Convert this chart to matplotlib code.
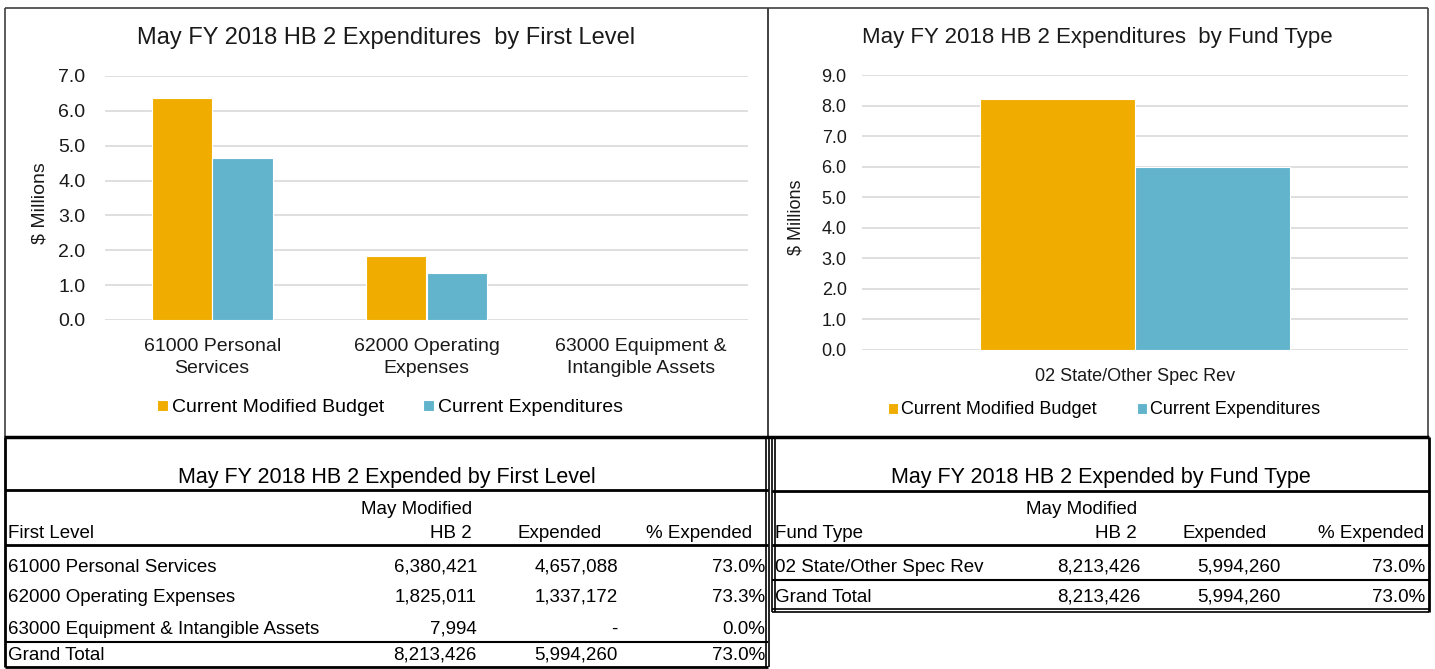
import matplotlib
matplotlib.use("Agg")
import matplotlib.pyplot as plt
from matplotlib.lines import Line2D
import numpy as np

plt.rcParams["font.family"] = ["Liberation Sans", "DejaVu Sans"]

# --- data --------------------------------------------------------------------
first_levels = ["61000 Personal Services", "62000 Operating Expenses",
                "63000 Equipment & Intangible Assets"]
first_level_ticks = ["61000 Personal\nServices", "62000 Operating\nExpenses",
                     "63000 Equipment &\nIntangible Assets"]
fl_budget = [6380421, 1825011, 7994]
fl_expended = [4657088, 1337172, 0]

fund_types = ["02 State/Other Spec Rev"]
ft_budget = [8213426]
ft_expended = [5994260]

series_names = ["Current Modified Budget", "Current Expenditures"]
ORANGE, BLUE = "#F0AD00", "#62B4CC"
GRID = "#D9D9D9"

W, H = 1435, 669
fig = plt.figure(figsize=(W / 100, H / 100), dpi=100)


def fx(x):
    return x / W


def fy(y):
    return 1 - y / H


def hline(x0, x1, y, lw=1.0, color="black"):
    fig.add_artist(Line2D([fx(x0), fx(x1)], [fy(y), fy(y)], lw=lw, color=color,
                          transform=fig.transFigure, solid_capstyle="butt"))


def vline(x, y0, y1, lw=1.0, color="black"):
    fig.add_artist(Line2D([fx(x), fx(x)], [fy(y0), fy(y1)], lw=lw, color=color,
                          transform=fig.transFigure, solid_capstyle="butt"))


def bar_chart(box, cats, budget, expended, ymax, fs, pad, title, title_xy,
              ylabel_x, legend_xy, colsp):
    x0, y0, x1, y1 = box
    ax = fig.add_axes([fx(x0), fy(y1), fx(x1) - fx(x0), fy(y0) - fy(y1)])
    x = np.arange(len(cats))
    w = 0.283
    b1 = ax.bar(x - w / 2, np.array(budget) / 1e6, w, color=ORANGE,
                edgecolor="white", lw=0.8, zorder=3, label=series_names[0])
    b2 = ax.bar(x + w / 2, np.array(expended) / 1e6, w, color=BLUE,
                edgecolor="white", lw=0.8, zorder=3, label=series_names[1])
    ax.set_xlim(-0.5, len(cats) - 0.5)
    ax.set_ylim(0, ymax)
    ax.set_yticks(np.arange(0, ymax + 0.5, 1.0))
    ax.yaxis.set_major_formatter(plt.FuncFormatter(lambda v, p: f"{v:.1f}"))
    ax.grid(axis="y", color=GRID, lw=1.2, zorder=0)
    for s in ax.spines.values():
        s.set_visible(False)
    ax.tick_params(axis="y", length=0, pad=pad, labelsize=fs, labelcolor="#1a1a1a")
    ax.set_xticks(x)
    ax.set_xticklabels(cats, fontsize=fs, linespacing=1.35, color="#1a1a1a")
    ax.tick_params(axis="x", length=0, pad=13)
    fig.text(fx(ylabel_x), fy((y0 + y1) / 2 + 5), "$ Millions", rotation=90,
             ha="center", va="center", fontsize=fs, color="#1a1a1a")
    fig.text(fx(title_xy[0]), fy(title_xy[1]), title, ha="center", va="center",
             fontsize=fs + 3, color="#1a1a1a")
    fig.legend(handles=[b1, b2], loc="center",
               bbox_to_anchor=(fx(legend_xy[0]), fy(legend_xy[1])),
               ncol=2, frameon=False, fontsize=fs, handlelength=0.55,
               handleheight=0.55, handletextpad=0.2, columnspacing=colsp,
               borderpad=0)
    return ax


bar_chart((105, 76, 748, 320), first_level_ticks, fl_budget, fl_expended, 7.0,
          14, 14, "May FY 2018 HB 2 Expenditures  by First Level", (386, 38),
          40, (390, 408), 2.0)
bar_chart((862, 75, 1408, 350), fund_types, ft_budget, ft_expended, 9.0,
          13, 11, "May FY 2018 HB 2 Expenditures  by Fund Type", (1097, 38),
          796, (1104, 410), 2.2)

# chart frames
for (a, b) in [(5, 768), (768, 1428)]:
    hline(a, b, 8, lw=1.2, color="#404040")
    vline(a, 8, 437, lw=1.2, color="#404040")
    vline(b, 8, 437, lw=1.2, color="#404040")
hline(4, 1429, 437, lw=2.5)


# --- tables ------------------------------------------------------------------
def fmt_num(v):
    return f"{v:,.0f}" if v else "-"


def fmt_pct(e, b):
    return f"{100 * e / b:.1f}%"


TFS = 13.5


def table(x0, x1, cols, title, first_head, labels, budget, expended, row_ys,
          total_y, lines):
    c_hb, c_hb_num, c_exp, c_exp_num, c_pct, c_pct_num = cols
    fig.text(fx((x0 + x1) / 2), fy(477), title, ha="center", va="center",
             fontsize=15.5)
    fig.text(fx(c_hb), fy(509), "May Modified", ha="right", va="center", fontsize=TFS)
    fig.text(fx(x0 + 3), fy(533), first_head, ha="left", va="center", fontsize=TFS)
    fig.text(fx(c_hb), fy(533), "HB 2", ha="right", va="center", fontsize=TFS)
    fig.text(fx(c_exp), fy(533), "Expended", ha="right", va="center", fontsize=TFS)
    fig.text(fx(c_pct), fy(533), "% Expended", ha="right", va="center", fontsize=TFS)
    rows = list(zip(labels, budget, expended)) + [("Grand Total", sum(budget),
                                                   sum(expended))]
    for y, (lab, b, e) in zip(row_ys + [total_y], rows):
        fig.text(fx(x0 + 3), fy(y), lab, ha="left", va="center", fontsize=TFS)
        fig.text(fx(c_hb_num), fy(y), fmt_num(b), ha="right", va="center", fontsize=TFS)
        fig.text(fx(c_exp_num), fy(y), fmt_num(e), ha="right", va="center", fontsize=TFS)
        fig.text(fx(c_pct_num), fy(y), fmt_pct(e, b), ha="right", va="center",
                 fontsize=TFS)
    for y, lw in lines:
        hline(x0, x1, y, lw=lw)


table(5, 768, (472, 477, 602, 618, 752, 765), "May FY 2018 HB 2 Expended by First Level",
      "First Level", first_levels, fl_budget, fl_expended, [567, 597, 629], 655,
      [(490, 2.0), (545, 2.0), (642, 1.5), (667, 2.0)])
table(772, 1429, (1137, 1141, 1267, 1281, 1424, 1425),
      "May FY 2018 HB 2 Expended by Fund Type", "Fund Type", fund_types,
      ft_budget, ft_expended, [567], 597,
      [(491, 2.0), (545, 2.0), (580, 1.5), (609, 1.2), (612, 1.2)])

vline(5, 437, 667, lw=2.0)
vline(766, 437, 667, lw=1.2)
vline(769, 437, 667, lw=1.2)
vline(772, 437, 612, lw=1.2)
vline(775, 437, 612, lw=1.2)
vline(1429, 437, 612, lw=2.0)

fig.savefig("out.png", dpi=100)
